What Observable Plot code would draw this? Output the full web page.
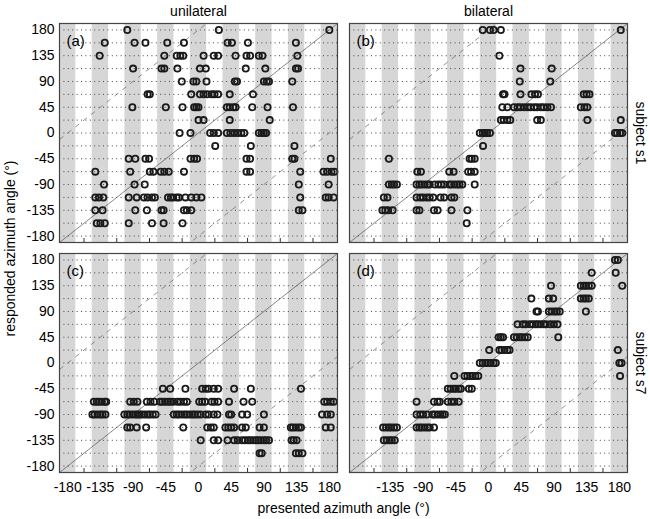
<!DOCTYPE html>
<html>
<head>
<meta charset="utf-8">
<script src="https://cdn.jsdelivr.net/npm/d3@7"></script>
<script src="https://cdn.jsdelivr.net/npm/@observablehq/plot@0.6"></script>
<style>
  html, body { margin: 0; padding: 0; background: #fff; }
</style>
</head>
<body>
<div id="chart"></div>
<script>
// ---- categories / labels ----
const conditions = ["unilateral", "bilateral"];
const subjects = ["subject s1", "subject s7"];
const panelLetters = ["(a)", "(b)", "(c)", "(d)"];
const xLabel = "presented azimuth angle (°)";
const yLabel = "responded azimuth angle (°)";

// ---- tick labels / grid ----
const xTickLabelsLeft = [-180, -135, -90, -45, 0, 45, 90, 135, 180];
const xTickLabelsRight = [-135, -90, -45, 0, 45, 90, 135, 180];
const yTickLabels = [-180, -135, -90, -45, 0, 45, 90, 135, 180];
const responseGrid = [-180, -157.5, -135, -112.5, -90, -67.5, -45, -22.5, 0, 22.5, 45, 67.5, 90, 112.5, 135, 157.5, 180];
const speakerBands = [-180, -135, -90, -45, 0, 45, 90, 135, 180];
const minorTicks = [-157.5, -112.5, -67.5, -22.5, 22.5, 67.5, 112.5, 157.5];
const diagonalOffsets = [0];
const confusionOffsets = [180, -180];
const angleDomain = [-191.25, 191.25];
const bandHalfWidth = 11.25;

// ---- data: [responded angle, [presented angles...]] ----
const unilateralS1 = [
  [180, [-98, 28, 180]],
  [157.5, [-129, -88, -73, -43, -20, 40, 46, 68, 134]],
  [135, [-136, -47, -30, -25, -21, 7, 21, 27, 51, 66, 71, 83, 88, 136]],
  [112.5, [-90, -51, -47, -29, 2, 10, 65, 92, 134, 137]],
  [90, [-23, -7, -3, 11, 50, 53, 90, 94, 97, 129]],
  [67.5, [-70, -67, -10, 2, 7, 12, 18, 22, 27, 43, 75]],
  [45, [-91, -45, -22, -6, -3, 0, 39, 43, 48, 51, 74, 95, 130]],
  [22.5, [0, 7, 43, 98]],
  [0, [-26, -11, 16, 21, 27, 39, 44, 49, 54, 59, 63, 83, 87, 90, 93]],
  [-22.5, [23, 72, 132]],
  [-45, [-96, -87, -73, -68, -11, -6, -2, 66, 71, 129, 132, 182]],
  [-67.5, [-142, -94, -67, -62, -52, -47, -41, -20, 66, 71, 140, 172, 177, 183, 187]],
  [-90, [-130, -88, -74, 138, 179]],
  [-112.5, [-142, -137, -131, -96, -85, -75, -70, -64, -60, -42, -38, -35, -30, -27, -18, -10, -3, 4, 140, 175, 179, 186]],
  [-135, [-142, -132, -87, -71, -51, -48, -20, -16, -10, 138, 143]],
  [-157.5, [-140, -135, -129, -96, -64, -48, -22]]
];
const bilateralS1 = [
  [180, [-8, 2, 7, 17, 182]],
  [135, [15]],
  [112.5, [44, 87]],
  [90, [43, 85]],
  [67.5, [20, 22, 44, 59, 64, 68, 131, 135, 139]],
  [45, [19, 26, 35, 40, 44, 49, 54, 58, 63, 67, 72, 76, 81, 86, 127, 132, 136]],
  [22.5, [17, 21, 26, 30, 67, 72, 136, 182]],
  [0, [-12, -8, -5, -2, 2, 174, 177, 181, 184]],
  [-22.5, [-7.5]],
  [-45, [-137, -26, -23, -19]],
  [-67.5, [-98, -93, -54, -48, -28, -24, -19]],
  [-90, [-137, -133, -130, -126, -99, -95, -92, -88, -84, -81, -74, -69, -65, -61, -54, -51, -47, -43, -40, -36, -19]],
  [-112.5, [-144, -139, -99, -94, -90, -85, -81, -76, -66, -61, -51, -47]],
  [-135, [-146, -142, -138, -132, -99, -95, -75, -70, -51, -29]],
  [-157.5, [-30]]
];
const unilateralS7 = [
  [-45, [-49, -39, -18, 5, 10, 14, 21, 27, 49, 72, 141]],
  [-67.5, [-144, -140, -137, -133, -129, -127, -94, -89, -84, -71, -66, -61, -53, -50, -46, -42, -39, -35, -29, -25, -20, -16, 1, 5, 9, 18, 22, 27, 42, 62, 74, 173, 177, 182, 186]],
  [-90, [-146, -143, -139, -135, -132, -128, -102, -98, -95, -91, -87, -84, -81, -78, -74, -70, -67, -63, -59, -34, -30, -27, -23, -19, -16, -12, -8, -5, -1, 3, 10, 14, 21, 26, 42, 45, 60, 67, 90, 170, 177, 182]],
  [-112.5, [-98, -94, -85, -72, -21, 12, 17, 21, 37, 41, 45, 49, 60, 65, 84, 90, 127, 130, 134, 138, 141, 175, 182]],
  [-135, [3, 21, 27, 40, 49, 54, 60, 64, 68, 71, 75, 79, 82, 86, 90, 93, 97, 128, 131, 135]],
  [-157.5, [84, 87, 134, 138, 143]]
];
const bilateralS7 = [
  [180, [174, 178]],
  [157.5, [142, 175]],
  [135, [86, 127, 131, 134, 138, 142, 184]],
  [112.5, [59, 83, 89, 127, 131, 134, 138]],
  [90, [66, 68, 83, 87, 91, 94, 98, 134]],
  [67.5, [40, 47, 51, 57, 61, 65, 68, 72, 76, 79, 85, 90, 95]],
  [45, [14, 17, 20, 35, 39, 43, 46, 50, 54, 96]],
  [22.5, [1, 15, 18, 22, 26, 29, 178]],
  [0, [-12, -8, -4, -1, 3, 7, 10, 180, 183]],
  [-22.5, [-47, -33, -29, -25, -22, -18, -14, 181]],
  [-45, [-56, -52, -48, -45, -41, -38, -27, -23]],
  [-67.5, [-99, -75, -70, -67, -56, -51, -47, -41]],
  [-90, [-99, -94, -90, -85, -77, -74, -70, -66, -63, -60]],
  [-112.5, [-145, -141, -137, -134, -130, -126, -99, -95, -92, -88, -84, -81, -75]],
  [-135, [-144, -140, -136, -133, -129]]
];

// ---- build tables ----
const panels = [
  {cond: conditions[0], subj: subjects[0], letter: panelLetters[0], rows: unilateralS1},
  {cond: conditions[1], subj: subjects[0], letter: panelLetters[1], rows: bilateralS1},
  {cond: conditions[0], subj: subjects[1], letter: panelLetters[2], rows: unilateralS7},
  {cond: conditions[1], subj: subjects[1], letter: panelLetters[3], rows: bilateralS7}
];
const points = panels.flatMap(p => p.rows.flatMap(([resp, pres]) =>
  pres.map(x => ({cond: p.cond, subj: p.subj, presented: x, responded: resp}))));
const xTickRows = [
  ...xTickLabelsLeft.map(v => ({cond: conditions[0], subj: subjects[1], v})),
  ...xTickLabelsRight.map(v => ({cond: conditions[1], subj: subjects[1], v}))
];
const yTickRows = subjects.flatMap(s => yTickLabels.map(v => ({cond: conditions[0], subj: s, v})));
const colTitles = conditions.map(c => ({cond: c, subj: subjects[0], text: c}));
const rowTitles = subjects.map(s => ({cond: conditions[1], subj: s, text: s}));

const font = "'Liberation Sans', Arial, Helvetica, sans-serif";

const chart = Plot.plot({
  width: 650,
  height: 519,
  marginLeft: 59,
  marginRight: 23,
  marginTop: 23,
  marginBottom: 47,
  style: {fontFamily: font, fontSize: "14px", background: "#fff", color: "#000"},
  fx: {domain: conditions, paddingInner: 0.042, paddingOuter: 0, axis: null},
  fy: {domain: subjects, paddingInner: 0.05, paddingOuter: 0, axis: null},
  x: {domain: angleDomain, axis: null},
  y: {domain: angleDomain, axis: null},
  marks: [
    Plot.rect(speakerBands, {x1: d => d - bandHalfWidth, x2: d => d + bandHalfWidth, fill: "#d6d6d6"}),
    Plot.ruleY(responseGrid, {stroke: "#444", strokeWidth: 1, strokeDasharray: "1,3.4"}),
    Plot.link(diagonalOffsets, {
      x1: angleDomain[0], x2: angleDomain[1],
      y1: d => angleDomain[0] + d, y2: d => angleDomain[1] + d,
      stroke: "#555", strokeWidth: 0.7, clip: true
    }),
    Plot.link(confusionOffsets, {
      x1: angleDomain[0], x2: angleDomain[1],
      y1: d => angleDomain[0] + d, y2: d => angleDomain[1] + d,
      stroke: "#666", strokeWidth: 0.7, strokeDasharray: "5,5", clip: true
    }),
    Plot.ruleX(minorTicks, {y1: angleDomain[0], y2: angleDomain[0] + 7, stroke: "#333", strokeWidth: 1}),
    Plot.dot(points, {
      x: "presented", y: "responded", fx: "cond", fy: "subj",
      r: 3.1, stroke: "#1a1a1a", strokeWidth: 1.8, fill: "none"
    }),
    Plot.frame({stroke: "#444", strokeWidth: 1.2}),
    // panel letters
    Plot.text(panels, {
      fx: "cond", fy: "subj", text: "letter", frameAnchor: "top-left",
      dx: 7, dy: 18, textAnchor: "start", lineAnchor: "middle", fontSize: 15
    }),
    // x tick labels
    Plot.text(xTickRows, {
      x: "v", fx: "cond", fy: "subj", text: d => String(d.v), frameAnchor: "bottom",
      dy: 15, lineAnchor: "middle", fontSize: 14
    }),
    // y tick labels
    Plot.text(yTickRows, {
      y: "v", fx: "cond", fy: "subj", text: d => String(d.v), frameAnchor: "left",
      dx: -5, textAnchor: "end", lineAnchor: "middle", fontSize: 14
    }),
    // column titles
    Plot.text(colTitles, {
      fx: "cond", fy: "subj", text: "text", frameAnchor: "top",
      dy: -12, lineAnchor: "middle", fontSize: 14
    }),
    // row titles
    Plot.text(rowTitles, {
      fx: "cond", fy: "subj", text: "text", frameAnchor: "right",
      dx: 13, rotate: 90, lineAnchor: "middle", textAnchor: "middle", fontSize: 14
    }),
    // global y label
    Plot.text([yLabel], {
      fx: () => conditions[0], fy: () => subjects[0], text: d => d, frameAnchor: "bottom-left",
      dx: -49, dy: 6, rotate: -90, lineAnchor: "middle", textAnchor: "middle", fontSize: 14
    }),
    // global x label
    Plot.text([xLabel], {
      fx: () => conditions[0], fy: () => subjects[1], text: d => d, frameAnchor: "bottom-right",
      dx: 6, dy: 36, lineAnchor: "middle", textAnchor: "middle", fontSize: 14
    })
  ]
});
document.getElementById("chart").appendChild(chart);
</script>
</body>
</html>
